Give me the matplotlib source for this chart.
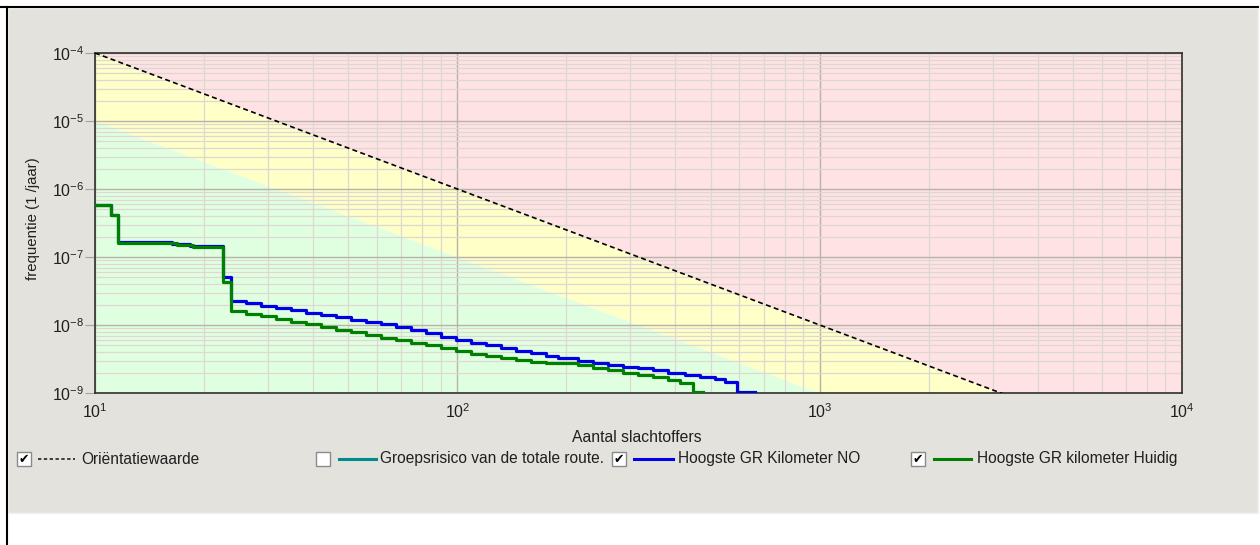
import matplotlib
matplotlib.use("Agg")
import matplotlib.pyplot as plt
import numpy as np
from matplotlib.patches import Rectangle
from matplotlib.lines import Line2D
from matplotlib.ticker import LogLocator, LogFormatterSciNotation, NullFormatter

plt.rcParams['font.family'] = ['Liberation Sans', 'DejaVu Sans']
plt.rcParams['mathtext.fontset'] = 'custom'
plt.rcParams['mathtext.rm'] = 'Liberation Sans'
plt.rcParams['mathtext.it'] = 'Liberation Sans'
plt.rcParams['mathtext.bf'] = 'Liberation Sans:bold'
plt.rcParams['axes.unicode_minus'] = False

# orientation value line and lower edge of the yellow zone (end points)
orient_n = [10, 10000]
orient_f = [1e-4, 1e-10]
yellow_low_f = [1e-5, 1e-11]

# Hoogste GR Kilometer NO (blue)
no_n = [10, 11.1, 11.6, 16.3, 18.3, 22.5, 23.7, 26.1, 28.7, 31.6, 34.7, 38.2,
        42.0, 46.3, 50.9, 56.0, 61.6, 67.7, 74.5, 81.9, 90.1, 99.2, 109, 120,
        132, 145, 160, 176, 190, 215, 237, 260, 287, 315, 347, 381, 425, 467,
        514, 548, 592, 663]
no_f = [5.8e-7, 4.2e-7, 1.66e-7, 1.55e-7, 1.47e-7, 5.1e-8, 2.25e-8, 2.08e-8,
        1.92e-8, 1.78e-8, 1.64e-8, 1.52e-8, 1.40e-8, 1.29e-8, 1.20e-8, 1.11e-8,
        1.02e-8, 9.35e-9, 8.35e-9, 7.5e-9, 6.7e-9, 6.0e-9, 5.5e-9, 5.0e-9,
        4.6e-9, 4.2e-9, 3.9e-9, 3.55e-9, 3.3e-9, 3.0e-9, 2.8e-9, 2.6e-9,
        2.45e-9, 2.3e-9, 2.2e-9, 2.0e-9, 1.85e-9, 1.72e-9, 1.58e-9, 1.45e-9,
        1.04e-9, 1.04e-9]

# Hoogste GR kilometer Huidig (green)
huidig_n = [10, 11.1, 11.6, 16.8, 18.6, 22.5, 23.7, 26.1, 28.7, 31.6, 34.7,
            38.2, 42.0, 46.3, 50.9, 56.0, 61.6, 67.7, 74.5, 81.9, 90.1, 99.2,
            109, 120, 132, 145, 160, 176, 215, 237, 260, 287, 315, 347, 381,
            412, 447, 476]
huidig_f = [5.8e-7, 4.2e-7, 1.62e-7, 1.5e-7, 1.4e-7, 4.3e-8, 1.61e-8, 1.47e-8,
            1.34e-8, 1.22e-8, 1.12e-8, 1.02e-8, 9.35e-9, 8.55e-9, 7.8e-9,
            7.15e-9, 6.5e-9, 5.95e-9, 5.45e-9, 5.0e-9, 4.55e-9, 4.15e-9,
            3.8e-9, 3.5e-9, 3.25e-9, 3.05e-9, 2.9e-9, 2.75e-9, 2.55e-9,
            2.37e-9, 2.18e-9, 2.0e-9, 1.87e-9, 1.72e-9, 1.55e-9, 1.4e-9,
            1.04e-9, 1.04e-9]

legend_labels = ['Oriëntatiewaarde', 'Groepsrisico van de totale route.',
                 'Hoogste GR Kilometer NO', 'Hoogste GR kilometer Huidig']
legend_checked = [True, False, True, True]

W, H = 1260, 545
fig = plt.figure(figsize=(W / 100, H / 100), dpi=100)
fig.patch.set_facecolor('white')


def px(x, y):
    return x / W, 1 - y / H


# grey panel with frame lines
fig.add_artist(Rectangle(px(8, 513), (1258 - 8) / W, (513 - 8) / H,
                         transform=fig.transFigure, facecolor='#E4E2DD',
                         edgecolor='#F4F3F0', lw=1, zorder=0))
fig.add_artist(Line2D([0, 1258 / W], [1 - 7 / H] * 2, transform=fig.transFigure,
                      color='black', lw=1.5))
fig.add_artist(Line2D([7 / W] * 2, [1 - 7 / H, 0], transform=fig.transFigure,
                      color='black', lw=1.5))

ax = fig.add_axes([95 / W, 1 - 393 / H, (1182 - 95) / W, (393 - 53) / H])
ax.set_xscale('log')
ax.set_yscale('log')
ax.set_xlim(10, 10000)
ax.set_ylim(1e-9, 1e-4)

# zones
ax.fill_between(orient_n, orient_f, [1, 1], color='#FFE2E4', lw=0, zorder=0)
ax.fill_between(orient_n, yellow_low_f, orient_f, color='#FFFFC8', lw=0, zorder=0)
ax.fill_between(orient_n, [1e-12, 1e-12], yellow_low_f, color='#E0FFE0', lw=0, zorder=0)

ax.xaxis.set_major_locator(LogLocator(base=10, numticks=10))
ax.xaxis.set_minor_locator(LogLocator(base=10, subs=np.arange(2, 10), numticks=20))
ax.yaxis.set_major_locator(LogLocator(base=10, numticks=10))
ax.yaxis.set_minor_locator(LogLocator(base=10, subs=np.arange(2, 10), numticks=20))
ax.xaxis.set_minor_formatter(NullFormatter())
ax.yaxis.set_minor_formatter(NullFormatter())
ax.xaxis.set_major_formatter(LogFormatterSciNotation())
ax.yaxis.set_major_formatter(LogFormatterSciNotation())

ax.grid(which='major', color='#B8B2A8', lw=1.0, zorder=1)
ax.grid(which='minor', color='#DDD9D2', lw=0.9, zorder=1)
ax.set_axisbelow(True)

ax.plot(orient_n, orient_f, color='black', lw=1.2, ls=(0, (3, 2)), zorder=3)
ax.plot(no_n, no_f, color='#0000E6', lw=2.3, drawstyle='steps-post', zorder=4)
ax.plot(huidig_n, huidig_f, color='#008000', lw=2.3, drawstyle='steps-post', zorder=5)

for s in ax.spines.values():
    s.set_color('#303030')
    s.set_linewidth(1.2)
ax.tick_params(axis='x', which='both', length=0, pad=7, labelsize=11.5,
               labelcolor='#202020')
ax.tick_params(axis='y', which='major', length=7, color='#A8A39A', labelsize=11.5,
               pad=1, labelcolor='#202020')
ax.tick_params(axis='y', which='minor', length=0)
ax.set_xlabel('Aantal slachtoffers', fontsize=11.3, color='#202020', va='center')
ax.xaxis.set_label_coords((637 - 95) / 1087, -(437 - 393) / 340)
ax.set_ylabel('frequentie (1 /jaar)', fontsize=10.8, color='#202020', va='center')
ax.yaxis.set_label_coords((33 - 95) / 1087, (393 - 219) / 340)

# legend with checkboxes
entries = [
    (17, 38, 75, 81, dict(color='#202020', lw=1.2, ls=(0, (2, 1.5)))),
    (316, 339, 376, 380, dict(color='#008B8B', lw=2.2)),
    (612, 634, 673, 678, dict(color='#0000E6', lw=2.2)),
    (911, 934, 971, 977, dict(color='#008000', lw=2.2)),
]
y_leg = 459
for (bx, l0, l1, tx, style), label, checked in zip(entries, legend_labels, legend_checked):
    fig.add_artist(Rectangle(px(bx, y_leg + 7), 14 / W, 14 / H,
                             transform=fig.transFigure, facecolor='white',
                             edgecolor='#8A8A8A', lw=1))
    if checked:
        fig.text(*px(bx + 7, y_leg), '✔', fontsize=9, ha='center', va='center',
                 family=['DejaVu Sans'], color='black')
    fig.add_artist(Line2D([l0 / W, l1 / W], [1 - y_leg / H] * 2,
                          transform=fig.transFigure, **style))
    fig.text(*px(tx, y_leg), label, fontsize=11.2, ha='left', va='center',
             color='#202020')

fig.savefig('out.png', dpi=100)
